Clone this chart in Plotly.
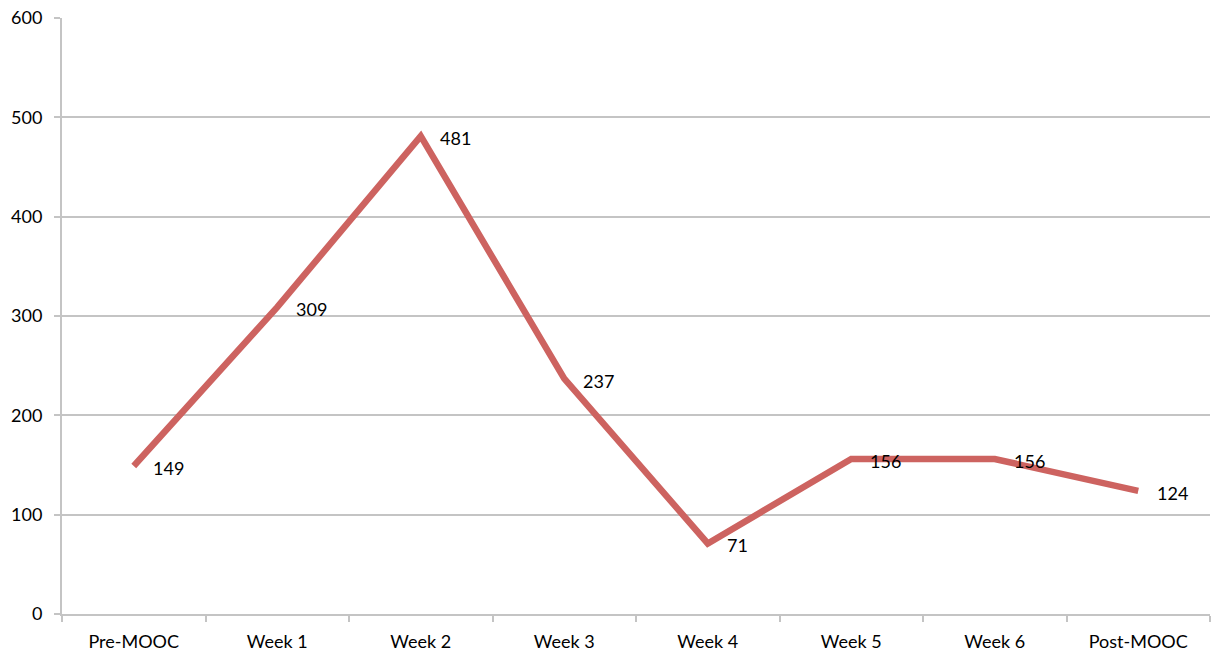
import plotly.graph_objects as go

# Weekly counts across the MOOC period
periods = ["Pre-MOOC", "Week 1", "Week 2", "Week 3", "Week 4", "Week 5", "Week 6", "Post-MOOC"]
counts = [149, 309, 481, 237, 71, 156, 156, 124]

y_ticks = [0, 100, 200, 300, 400, 500, 600]

grid_color = "#c4c4c4"
line_color = "#cd6360"
font_family = "Lato, 'Open Sans', sans-serif"

fig = go.Figure()
fig.add_trace(go.Scatter(
    x=periods,
    y=counts,
    mode="lines",
    line=dict(color=line_color, width=6.5),
    hoverinfo="x+y",
    showlegend=False,
))

# value labels sitting just right of each point
for p, c in zip(periods, counts):
    fig.add_annotation(
        x=p, y=c, text=str(c),
        showarrow=False, xanchor="left", yanchor="middle",
        xshift=17, yshift=-2,
        font=dict(family=font_family, size=18, color="#000000"),
    )

fig.update_layout(
    width=1225, height=656,
    margin=dict(l=62, r=15, t=18, b=42, autoexpand=False),
    paper_bgcolor="white",
    plot_bgcolor="white",
    font=dict(family=font_family, size=18, color="#000000"),
    xaxis=dict(
        type="category",
        range=[-0.5, 7.5],
        showgrid=False,
        showline=True, linecolor=grid_color, linewidth=2,
        ticks="outside", tickson="boundaries", ticklen=6,
        tickcolor=grid_color, tickwidth=2,
        tickfont=dict(size=18),
        ticklabelstandoff=10,
        zeroline=False,
        automargin=False,
    ),
    yaxis=dict(
        range=[0, 600],
        tickvals=y_ticks,
        showgrid=True, gridcolor=grid_color, gridwidth=2,
        showline=True, linecolor=grid_color, linewidth=2,
        ticks="outside", ticklen=6, tickcolor=grid_color, tickwidth=2,
        tickfont=dict(size=18),
        ticklabelstandoff=8,
        zeroline=False,
        automargin=False,
    ),
)

fig.write_html("out.html")
